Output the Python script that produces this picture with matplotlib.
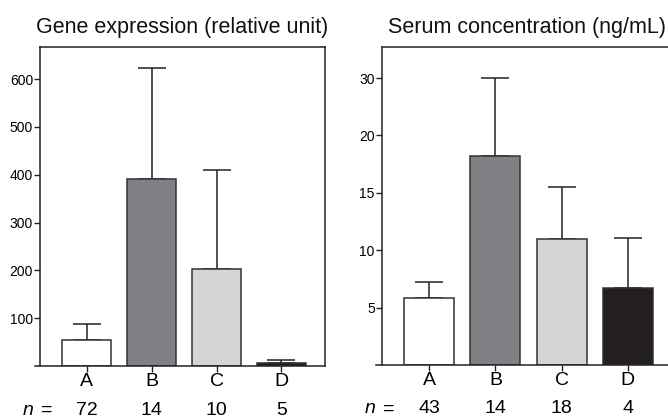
import matplotlib.pyplot as plt
import numpy as np

categories = ['A', 'B', 'C', 'D']
bar_colors = ['#ffffff', '#808184', '#d4d5d7', '#231f20']

gene_mean = [54, 391, 203, 5.5]
gene_err = [34, 232, 207, 6.5]
gene_n = [72, 14, 10, 5]
gene_ticks = [100, 200, 300, 400, 500, 600]

serum_mean = [5.8, 18.2, 11.0, 6.7]
serum_err = [1.4, 6.8, 4.5, 4.4]
serum_n = [43, 14, 18, 4]
serum_tick_pos = [5, 10, 15, 20, 25]
serum_tick_lbl = ['5', '10', '15', '20', '30']

plt.rcParams['font.family'] = ['Liberation Sans', 'DejaVu Sans']

fig = plt.figure(figsize=(6.68, 4.2), dpi=100)
ax1 = fig.add_axes([0.0599, 0.1286, 0.4266, 0.7595])
ax2 = fig.add_axes([0.5714, 0.131, 0.4346, 0.757])


def panel(ax, mean, err, n, title, ymax):
    x = np.arange(len(categories))
    ax.bar(x, mean, width=0.755, color=bar_colors, edgecolor='#333333',
           linewidth=1.1, zorder=2)
    ax.errorbar(x, np.array(mean) + np.array(err),
                yerr=[err, np.zeros(len(err))], fmt='none', ecolor='#222222',
                elinewidth=1.1, capsize=10, capthick=1.1, zorder=1)
    ax.set_xlim(-0.72, 3.67)
    ax.set_ylim(0, ymax)
    for s in ax.spines.values():
        s.set_linewidth(1.1)
        s.set_color('#222222')
    ax.spines['bottom'].set_visible(False)
    ax.plot([-0.018, 1], [0, 0], transform=ax.transAxes, clip_on=False,
            color='#222222', lw=1.1)
    ax.set_xticks(x)
    ax.set_xticklabels(categories, fontsize=14)
    ax.tick_params(axis='x', length=4, width=1, pad=1, color='#222222')
    ax.tick_params(axis='y', length=4, width=1, pad=1, labelsize=10,
                   color='#222222')
    ax.set_title(title, fontsize=15.5, pad=10, loc='center', color='#111111')
    tr = ax.get_xaxis_transform()
    for xi, ni in zip(x, n):
        ax.text(xi, -0.138, str(ni), transform=tr, ha='center', va='center',
                fontsize=14)
    ax.text(-0.72 - 0.10, -0.138, 'n', transform=tr, ha='right', va='center',
            fontsize=14, style='italic')
    ax.text(-0.72 + 0.20, -0.138, '=', transform=tr, ha='right', va='center',
            fontsize=14)


panel(ax1, gene_mean, gene_err, gene_n, 'Gene expression (relative unit)', 667)
ax1.set_yticks(gene_ticks)

panel(ax2, serum_mean, serum_err, serum_n, 'Serum concentration (ng/mL)', 27.7)
ax2.set_yticks(serum_tick_pos)
ax2.set_yticklabels(serum_tick_lbl)

fig.savefig('out.png', dpi=100)
